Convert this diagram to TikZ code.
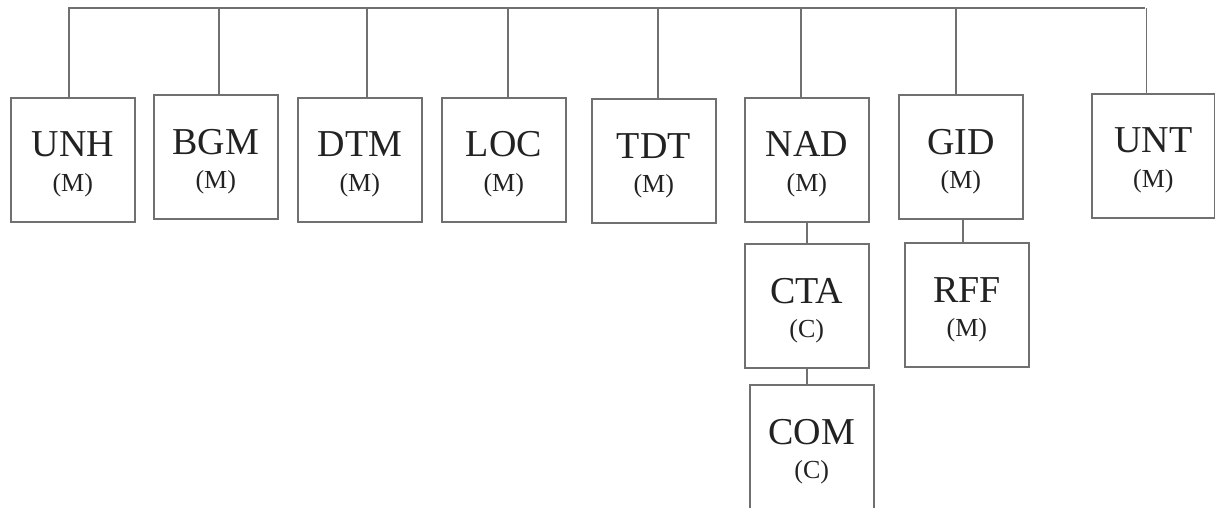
\documentclass[tikz,border=0pt]{standalone}
\usepackage{fontspec}
\setmainfont{Liberation Serif}
\begin{document}
\begin{tikzpicture}[x=1pt,y=-1pt,
  box/.style={draw=linegray, line width=1.6pt, anchor=north west, minimum width=124pt, minimum height=124pt, inner sep=0pt, fill=white},
  maintxt/.style={anchor=base, inner sep=0pt, text=txtgray, font=\fontsize{38}{40}\selectfont},
  subtxt/.style={anchor=base, inner sep=0pt, text=txtgray, font=\fontsize{26}{28}\selectfont},
  conn/.style={draw=linegray, line width=1.6pt}]
\definecolor{linegray}{RGB}{112,112,112}
\definecolor{txtgray}{RGB}{34,34,34}
\useasboundingbox (0,0) rectangle (1215,508);
\clip (0,0) rectangle (1215,508);
% bus
\coordinate (busL) at (68,8);
\coordinate (busR) at (1145,8);
\draw[conn] (busL) -- (busR);
% boxes
\node[box] (unh) at (10,97) {};
\node[box] (bgm) at (153,94) {};
\node[box] (dtm) at (297,97) {};
\node[box] (loc) at (441,97) {};
\node[box] (tdt) at (591,98) {};
\node[box] (nad) at (744,97) {};
\node[box] (gid) at (898,94) {};
\node[box, minimum width=123pt] (unt) at (1091,93) {};
\node[box] (cta) at (744,243) {};
\node[box] (rff) at (904,242) {};
\node[box, minimum height=140pt] (com) at (749,384) {};
% labels
\foreach \n/\a/\b in {unh/UNH/(M), bgm/BGM/(M), dtm/DTM/(M), loc/LOC/(M), tdt/TDT/(M), nad/NAD/(M), gid/GID/(M), unt/UNT/(M), cta/CTA/(C), rff/RFF/(M), com/COM/(C)}{
  \node[maintxt] (\n-a) at ([yshift=-60pt]\n.north) {\a};
  \node[subtxt] (\n-b) at ([yshift=-94pt]\n.north) {\b};
}
% connectors from bus
\foreach \n/\d in {unh/-4, bgm/3, dtm/7, loc/4, tdt/4, nad/-6, gid/-5, unt/-7}{
  \draw[conn] ([xshift=\d pt]\n.north) -- ([xshift=\d pt]\n.north |- busL);
}
% vertical chains
\draw[conn] (nad.south) -- (nad.south |- cta.north);
\draw[conn] (cta.south) -- (cta.south |- com.north);
\draw[conn] ([xshift=2pt]gid.south) -- ([xshift=2pt]gid.south |- rff.north);
\end{tikzpicture}
\end{document}
